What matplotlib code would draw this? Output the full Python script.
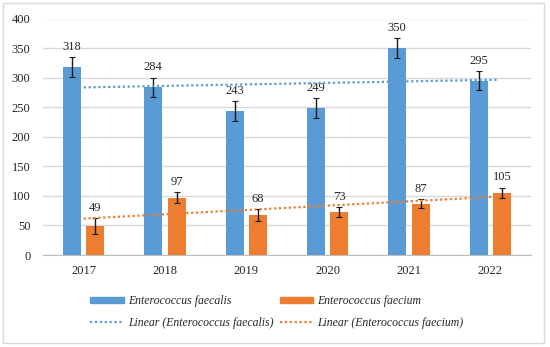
import numpy as np
import matplotlib.pyplot as plt
from matplotlib.patches import Rectangle
from matplotlib.lines import Line2D

# Data
years = ['2017', '2018', '2019', '2020', '2021', '2022']
faecalis = [318, 284, 243, 249, 350, 295]
faecium = [49, 97, 68, 73, 87, 105]
faecalis_err = [17, 16, 17, 17, 17, 16]
faecium_err = [13, 9, 10, 8.5, 8, 9]

blue = '#5b9bd5'
orange = '#ed7d31'
text_color = '#262626'

plt.rcParams['font.family'] = ['Liberation Serif', 'DejaVu Serif']

fig = plt.figure(figsize=(5.5, 3.47), dpi=100)
ax = fig.add_axes([43 / 550, 1 - 255 / 347, (531 - 43) / 550, (255 - 18.5) / 347])

x = np.arange(len(years))
width = 0.222
offset = 0.145

ax.bar(x - offset, faecalis, width, color=blue, zorder=3)
ax.bar(x + offset, faecium, width, color=orange, zorder=3)

err_style = dict(fmt='none', ecolor='#1a1a1a', elinewidth=1.0, capsize=2.5,
                 capthick=0.8, zorder=4)
ax.errorbar(x - offset, faecalis, yerr=faecalis_err, **err_style)
ax.errorbar(x + offset, faecium, yerr=faecium_err, **err_style)

# Value labels above the error bars
for xi, v, e in zip(x - offset, faecalis, faecalis_err):
    ax.annotate(str(v), (xi, v + e), xytext=(0, 3), textcoords='offset points',
                ha='center', va='bottom', fontsize=9, color=text_color)
for xi, v, e in zip(x + offset, faecium, faecium_err):
    ax.annotate(str(v), (xi, v + e), xytext=(0, 3), textcoords='offset points',
                ha='center', va='bottom', fontsize=9, color=text_color)

# Linear trendlines
t = x + 1
p1 = np.polyfit(t, faecalis, 1)
p2 = np.polyfit(t, faecium, 1)
tx = np.array([x[0], x[-1] + 0.1])
dots = (0, (1, 1.2))
ax.plot(tx, np.polyval(p1, tx + 1), linestyle=dots, color=blue, lw=1.6, zorder=5)
ax.plot(tx, np.polyval(p2, tx + 1), linestyle=dots, color=orange, lw=1.6, zorder=5)

ax.set_xlim(-0.5, len(years) - 0.5)
ax.set_ylim(0, 400)
ax.set_yticks(range(0, 401, 50))
ax.set_xticks(x)
ax.set_xticklabels(years)
ax.grid(axis='y', color='#d9d9d9', linewidth=1, zorder=0)
ax.set_axisbelow(True)
for s in ['top', 'right', 'left']:
    ax.spines[s].set_visible(False)
ax.spines['bottom'].set_color('#bfbfbf')
ax.tick_params(axis='both', length=0, labelsize=9, colors=text_color)
ax.tick_params(axis='y', pad=9)
ax.tick_params(axis='x', pad=7)

handles = [
    Rectangle((0, 0), 1, 1, color=blue),
    Line2D([], [], color=blue, linestyle=dots, lw=1.6),
    Rectangle((0, 0), 1, 1, color=orange),
    Line2D([], [], color=orange, linestyle=dots, lw=1.6),
]
labels = [
    'Enterococcus faecalis',
    'Linear (Enterococcus faecalis)',
    'Enterococcus faecium',
    'Linear (Enterococcus faecium)',
]
leg = fig.legend(handles, labels, loc='center', bbox_to_anchor=(277 / 550, 1 - 312 / 347),
                 ncol=2, frameon=False, prop={'style': 'italic', 'size': 8.5},
                 handlelength=2.8, handleheight=0.5, handletextpad=0.35,
                 columnspacing=0.6, labelspacing=0.8)
for txt in leg.get_texts():
    txt.set_color(text_color)

# Light border around the whole chart
fig.patches.append(Rectangle((3 / 550, 1 - 343 / 347), 541 / 550, 340 / 347,
                             transform=fig.transFigure, fill=False,
                             edgecolor='#d9d9d9', linewidth=1))

fig.savefig('out.png', dpi=100)
